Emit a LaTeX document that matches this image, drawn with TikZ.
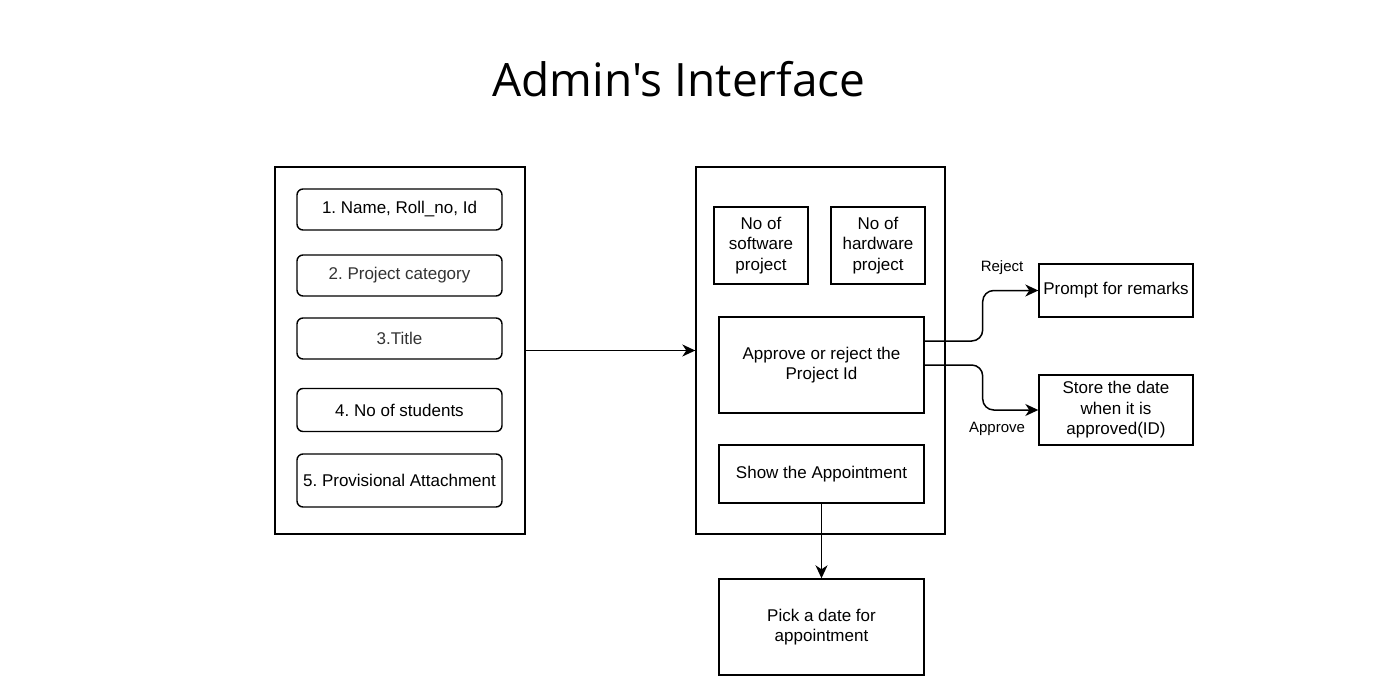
\documentclass[tikz,border=0pt]{standalone}
\usepackage{fontspec}
\setmainfont{Liberation Sans}
\newfontfamily\titlefont{Open Sans}
\usetikzlibrary{arrows.meta}
\definecolor{txtgray}{HTML}{333333}
\frenchspacing

\begin{document}
\begin{tikzpicture}[x=1pt, y=-1pt,
    every node/.style={font=\fontsize{17}{20.5}\selectfont, align=center, inner sep=0pt},
    box/.style={draw, line width=1.4pt, minimum width=205, minimum height=96},
    field/.style={draw, line width=1.4pt, rounded corners=6, minimum width=205, minimum height=41},
    lbl/.style={font=\fontsize{15}{18}\selectfont},
    flowarrow/.style={line width=1.5pt, -{Stealth[length=13pt,width=12pt,inset=4pt]}}]
    \useasboundingbox (0,0) rectangle (1383,695);

    \node[font=\titlefont\fontsize{46}{50}\selectfont] (title) at (679,79) {Admin's Interface};

    % student side
    \node[box, minimum width=250, minimum height=367] (inform) at (400,350.5) {};
    \node[field] (field1) at (399.5,209.5) {1. Name, Roll\_no, Id};
    \node[field, text=txtgray] (field2) at (399.5,275.5) {2. Project category};
    \node[field, text=txtgray] (field3) at (399.5,338.5) {3.Title};
    \node[field, minimum height=43] (field4) at (399.5,410) {4. No of students};
    \node[field, minimum height=53] (field5) at (399.5,480.5) {5. Provisional Attachment};

    % admin side
    \node[box, minimum width=249, minimum height=367] (admin) at (820.5,350.5) {};
    \node[box, minimum width=94, minimum height=77] (swcount) at (761,245.5) {No of\\software\\project};
    \node[box, minimum width=94, minimum height=77] (hwcount) at (878,245.5) {No of\\hardware\\project};
    \node[box] (decide) at (821.5,365) {Approve or reject the\\Project Id};
    \node[box, minimum height=58] (showappt) at (821.5,474) {Show the Appointment};
    \node[box] (pickdate) at (821.5,627) {Pick a date for\\appointment};
    \node[box, minimum width=154, minimum height=53] (remarks) at (1116,290.5) {Prompt for remarks};
    \node[box, minimum width=154, minimum height=70] (storedate) at (1116,410) {Store the date\\when it is\\approved(ID)};

    \node[lbl] (rejectlbl) at (1002,268) {Reject};
    \node[lbl] (approvelbl) at (997,429) {Approve};

    \draw[flowarrow] (inform.east) -- (admin.west);
    \draw[flowarrow, rounded corners=11] ([yshift=24pt]decide.east) -- ++(58,0) |- (remarks.west);
    \draw[flowarrow, rounded corners=11] (decide.east) -- ++(58,0) |- (storedate.west);
    \draw[flowarrow] (showappt.south) -- (pickdate.north);
\end{tikzpicture}
\end{document}
